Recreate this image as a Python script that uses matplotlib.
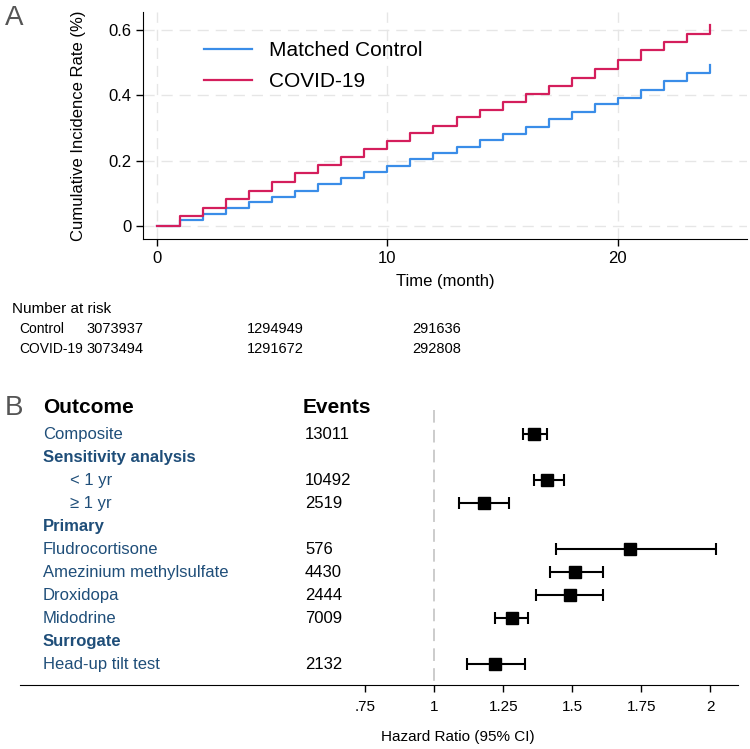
import matplotlib.pyplot as plt
import numpy as np

plt.rcParams["font.family"] = ["Liberation Sans", "DejaVu Sans"]

# Panel A: cumulative incidence (%), one value per month interval
months = list(range(0, 25))
control_rate = [0, 0.018, 0.038, 0.056, 0.073, 0.089, 0.107, 0.127, 0.146, 0.165,
                0.184, 0.205, 0.224, 0.242, 0.263, 0.283, 0.303, 0.327, 0.349,
                0.372, 0.393, 0.415, 0.443, 0.468, 0.494]
covid_rate = [0, 0.031, 0.054, 0.081, 0.108, 0.134, 0.161, 0.186, 0.212, 0.236,
              0.260, 0.285, 0.305, 0.332, 0.356, 0.380, 0.403, 0.427, 0.454,
              0.479, 0.507, 0.540, 0.563, 0.588, 0.614]

risk_labels = ["Control", "COVID-19"]
risk_control = ["3073937", "1294949", "291636"]
risk_covid = ["3073494", "1291672", "292808"]

# Panel B: forest plot
outcomes = ["Composite", "Sensitivity analysis", "< 1 yr", "\u2265 1 yr", "Primary",
            "Fludrocortisone", "Amezinium methylsulfate", "Droxidopa", "Midodrine",
            "Surrogate", "Head-up tilt test"]
is_header = [False, True, False, False, True, False, False, False, False, True, False]
events = ["13011", "", "10492", "2519", "", "576", "4430", "2444", "7009", "", "2132"]
hr = [1.36, None, 1.41, 1.18, None, 1.71, 1.51, 1.49, 1.28, None, 1.22]
hr_lo = [1.32, None, 1.36, 1.09, None, 1.44, 1.42, 1.37, 1.22, None, 1.12]
hr_hi = [1.41, None, 1.47, 1.27, None, 2.02, 1.61, 1.61, 1.34, None, 1.33]
hr_ticks = [0.75, 1, 1.25, 1.5, 1.75, 2]
hr_ticklabels = [".75", "1", "1.25", "1.5", "1.75", "2"]

blue = "#3a8de8"
red = "#d41e5c"
text_blue = "#1f4e79"

fig = plt.figure(figsize=(7.5, 7.49), dpi=100)

# ---- Panel A
ax = fig.add_axes([143 / 750, 1 - 239 / 749, 604 / 750, 227 / 749])
ax.step(months, control_rate, where="post", color=blue, lw=1.6, label="Matched Control")
ax.step(months, covid_rate, where="post", color=red, lw=1.6, label="COVID-19")
ax.set_xlim(-0.6, 25.6)
ax.set_ylim(-0.04, 0.655)
ax.set_xticks([0, 10, 20])
ax.set_yticks([0, 0.2, 0.4, 0.6])
ax.set_yticklabels(["0", "0.2", "0.4", "0.6"])
ax.grid(True, ls=(0, (8, 5)), color="#e6e6e6", lw=1)
ax.set_axisbelow(True)
for s in ["top", "right"]:
    ax.spines[s].set_visible(False)
ax.tick_params(labelsize=12, length=5, width=1)
ax.set_xlabel("Time (month)", fontsize=12, labelpad=6)
ax.set_ylabel("Cumulative Incidence Rate (%)", fontsize=12, labelpad=16)
ax.legend(loc="upper left", bbox_to_anchor=(0.07, 0.955), frameon=False, fontsize=15,
          handlelength=2.3, handletextpad=0.8, labelspacing=0.6)
fig.text(5 / 750, 1 - 18 / 749, "A", fontsize=20, color="#555555", va="center")

# number at risk table
risk_x = [86, 247, 412]
fig.text(12 / 750, 1 - 309 / 749, "Number at risk", fontsize=11, va="center")
for row, (lab, vals) in enumerate(zip(risk_labels, [risk_control, risk_covid])):
    y = 1 - (329 + 20 * row) / 749
    fig.text(19 / 750, y, lab, fontsize=10, va="center")
    for x, v in zip(risk_x, vals):
        fig.text(x / 750, y, v, fontsize=10.5, va="center")

# ---- Panel B
bx = fig.add_axes([20 / 750, 1 - 685 / 749, 718 / 750, 290 / 749])
rows = np.arange(1, len(outcomes) + 1)
bx.set_xlim(-0.5, 2.1)
bx.set_ylim(11.913, -0.696)
for s in ["top", "right", "left"]:
    bx.spines[s].set_visible(False)
bx.set_yticks([])
bx.set_xticks(hr_ticks)
bx.set_xticklabels(hr_ticklabels)
bx.tick_params(axis="x", labelsize=11, length=5, width=1, pad=6)
bx.plot([1, 1], [-0.05, 11.913], ls=(0, (7, 4)), color="#c8c8c8", lw=1.3)

for r, h, lo, hi in zip(rows, hr, hr_lo, hr_hi):
    if h is None:
        continue
    bx.errorbar(h, r, xerr=[[h - lo], [hi - h]], fmt="s", color="black",
                ms=8, capsize=4, elinewidth=1.5, capthick=1.5)

for r, lab, hdr, ev in zip(rows, outcomes, is_header, events):
    x = (70 - 20) / 718 if lab.startswith(("<", "\u2265")) else (43 - 20) / 718
    bx.text(x, r, lab, transform=bx.get_yaxis_transform(), fontsize=12,
            color=text_blue, va="center", fontweight="bold" if hdr else "normal")
    bx.text((305 - 20) / 718, r, ev, transform=bx.get_yaxis_transform(),
            fontsize=12, va="center")

bx.text((43 - 20) / 718, -0.174, "Outcome", transform=bx.get_yaxis_transform(),
        fontsize=15, fontweight="bold", va="center")
bx.text((303 - 20) / 718, -0.174, "Events", transform=bx.get_yaxis_transform(),
        fontsize=15, fontweight="bold", va="center")
fig.text(5 / 750, 1 - 408 / 749, "B", fontsize=20, color="#555555", va="center")
fig.text(458 / 750, 1 - 737 / 749, "Hazard Ratio (95% CI)", fontsize=11,
         ha="center", va="center")

fig.savefig("out.png", dpi=100)
